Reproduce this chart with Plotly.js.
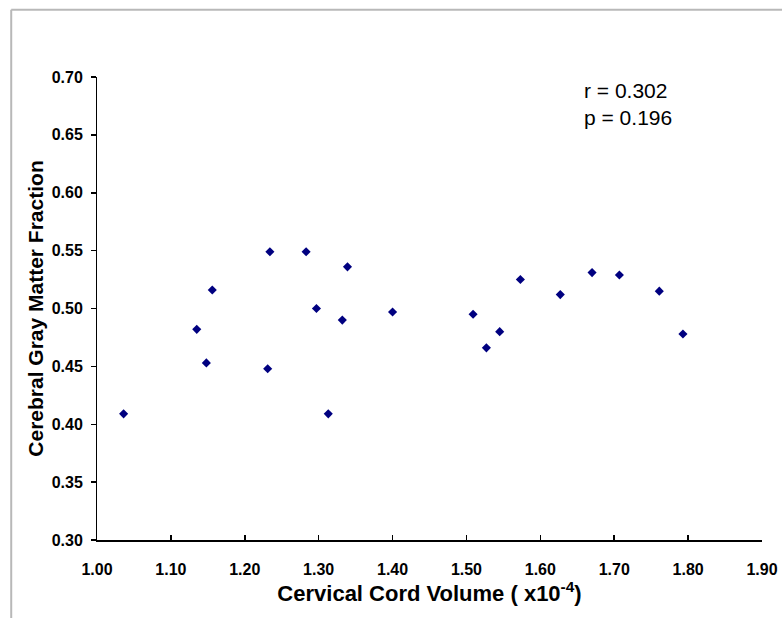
<!DOCTYPE html>
<html>
<head>
<meta charset="utf-8">
<script src="https://cdn.plot.ly/plotly-3.0.1.min.js"></script>
<style>html,body{margin:0;padding:0;background:#fff;}#chart{width:782px;height:618px;}</style>
</head>
<body>
<div id="chart"></div>
<script>
// Data
const cordVolume = [1.036, 1.135, 1.148, 1.156, 1.231, 1.234, 1.283, 1.297, 1.313, 1.332, 1.339,
                    1.400, 1.509, 1.527, 1.545, 1.573, 1.627, 1.670, 1.707, 1.761, 1.793];
const grayFraction = [0.409, 0.482, 0.453, 0.516, 0.448, 0.549, 0.549, 0.500, 0.409, 0.490, 0.536,
                      0.497, 0.495, 0.466, 0.480, 0.525, 0.512, 0.531, 0.529, 0.515, 0.478];
const statsText = ["r = 0.302", "p = 0.196"];
const xTitle = "Cervical Cord Volume ( x10<sup>-4</sup>)";
const yTitle = "Cerebral Gray Matter Fraction";

const trace = {
  x: cordVolume, y: grayFraction, type: 'scatter', mode: 'markers',
  marker: {symbol: 'diamond', size: 7, color: '#000080'},
  hoverinfo: 'skip', showlegend: false
};

const layout = {
  width: 782, height: 618,
  margin: {l: 97, r: 20, t: 77, b: 78},
  paper_bgcolor: '#fff', plot_bgcolor: '#fff',
  font: {family: 'Liberation Sans, Arial, sans-serif', color: '#000'},
  xaxis: {
    range: [1.0, 1.9], dtick: 0.1, tick0: 1.0, tickformat: '.2f',
    showgrid: false, zeroline: false, showline: true, linecolor: '#000', linewidth: 1.5,
    ticks: 'inside', ticklen: 5, tickcolor: '#000', tickwidth: 1.5,
    ticklabelstandoff: 14,
    tickfont: {size: 16, weight: 'bold'},
    title: {text: xTitle, font: {size: 22, weight: 'bold'}, standoff: 4}
  },
  yaxis: {
    range: [0.3, 0.7], dtick: 0.05, tick0: 0.3, tickformat: '.2f', ticksuffix: ' ',
    showgrid: false, zeroline: false, showline: true, linecolor: '#000', linewidth: 1.5,
    ticks: 'outside', ticklen: 5, tickcolor: '#000', tickwidth: 1.5,
    tickfont: {size: 16, weight: 'bold'},
    title: {text: yTitle, font: {size: 21, weight: 'bold'}, standoff: 2}
  },
  annotations: [{
    xref: 'paper', yref: 'paper', x: 0.729, y: 0.941, xanchor: 'left', yanchor: 'middle',
    align: 'left', showarrow: false, text: statsText.join('<br>'),
    font: {size: 21, color: '#000'}
  }],
  shapes: [
    {type: 'line', xref: 'paper', yref: 'paper', x0: -0.129, x1: -0.129, y0: 1.145, y1: -0.2,
     line: {color: '#b8b8b8', width: 2}},
    {type: 'line', xref: 'paper', yref: 'paper', x0: -0.129, x1: 1.05, y0: 1.145, y1: 1.145,
     line: {color: '#b8b8b8', width: 2}}
  ]
};

Plotly.newPlot('chart', [trace], layout, {displayModeBar: false, staticPlot: true});
</script>
</body>
</html>
